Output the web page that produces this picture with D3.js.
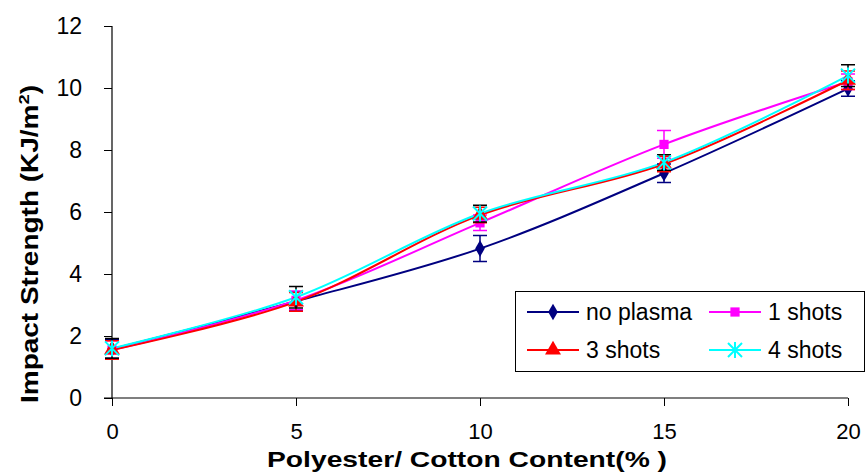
<!DOCTYPE html>
<html><head><meta charset="utf-8">
<script src="https://cdn.jsdelivr.net/npm/d3@7"></script>
<style>body{margin:0;background:#fff}svg{display:block}</style>
</head><body>
<svg id="c" width="867" height="474"></svg>
<script>
const content = [0, 5, 10, 15, 20];
const noPlasma = [1.58, 3.12, 4.82, 7.25, 9.98];
const noPlasmaErr = [0.3, 0.3, 0.42, 0.3, 0.25];
const shots1 = [1.55, 3.15, 5.65, 8.18, 10.2];
const shots1Err = [0.3, 0.3, 0.25, 0.45, 0.25];
const shots3 = [1.55, 3.1, 5.9, 7.55, 10.25];
const shots3Err = [0.3, 0.3, 0.25, 0.25, 0.3];
const shots4 = [1.6, 3.25, 5.95, 7.6, 10.4];
const shots4Err = [0.32, 0.35, 0.27, 0.25, 0.35];
const yTicks = [0, 2, 4, 6, 8, 10, 12];
const xTicks = [0, 5, 10, 15, 20];
const seriesNames = ["no plasma", "1 shots", "3 shots", "4 shots"];

const svg = d3.select("#c");
const x = d3.scaleLinear().domain([0, 20]).range([112, 848]);
const y = d3.scaleLinear().domain([0, 12]).range([398, 26]);
const FONT = "Liberation Sans, Arial, sans-serif";

const series = [
  {name: seriesNames[0], vals: noPlasma, err: noPlasmaErr, color: "#000080", errColor: "#000080", sym: d3.symbolDiamond, size: 80},
  {name: seriesNames[1], vals: shots1, err: shots1Err, color: "#FF00FF", errColor: "#FF00FF", sym: d3.symbolSquare, size: 85},
  {name: seriesNames[2], vals: shots3, err: shots3Err, color: "#FF0000", errColor: "#FF0000", sym: d3.symbolTriangle, size: 110},
  {name: seriesNames[3], vals: shots4, err: shots4Err, color: "#00FFFF", errColor: "#000000", sym: "star", size: 7}
];

// axes
const yAxis = d3.axisLeft(y).tickValues(yTicks).tickSize(8).tickPadding(22);
const gy = svg.append("g").attr("transform", "translate(112,0)").call(yAxis);
gy.select(".domain").attr("stroke", "#000").attr("stroke-width", 1.2).attr("d", "M0,26V398");
gy.selectAll(".tick line").attr("stroke", "#000");
gy.selectAll(".tick text").attr("font-family", FONT).attr("font-size", 23).attr("fill", "#000");

const xAxis = d3.axisBottom(x).tickValues(xTicks).tickSize(8).tickPadding(17);
const gx = svg.append("g").attr("transform", "translate(0,398)").call(xAxis);
gx.select(".domain").attr("stroke", "#000").attr("stroke-width", 1.2).attr("d", "M104,0H848");
gx.selectAll(".tick line").attr("stroke", "#000");
gx.selectAll(".tick text").attr("font-family", FONT).attr("font-size", 22).attr("fill", "#000");

// titles
svg.append("text").attr("x", 467).attr("y", 467).attr("text-anchor", "middle")
  .attr("font-family", FONT).attr("font-weight", "bold").attr("font-size", 22)
  .attr("textLength", 400).attr("lengthAdjust", "spacingAndGlyphs")
  .text("Polyester/ Cotton Content(% )");

const yt = svg.append("text").attr("transform", "translate(38,244) rotate(-90)").attr("text-anchor", "middle")
  .attr("font-family", FONT).attr("font-weight", "bold").attr("font-size", 23)
  .attr("textLength", 318).attr("lengthAdjust", "spacingAndGlyphs");
yt.append("tspan").text("Impact Strength (KJ/m");
yt.append("tspan").attr("font-size", 15).attr("dy", -9).text("2");
yt.append("tspan").attr("dy", 9).text(")");

const line = d3.line().x((d, i) => x(content[i])).y(d => y(d)).curve(d3.curveCatmullRom.alpha(0.5));

function drawMarker(g, s, cx, cy, scale) {
  if (s.sym === "star") {
    const r = s.size * scale;
    g.append("path").attr("d", `M${cx - r},${cy - r}L${cx + r},${cy + r}M${cx - r},${cy + r}L${cx + r},${cy - r}M${cx},${cy - r - 1}V${cy + r + 1}`)
      .attr("stroke", s.color).attr("stroke-width", 2).attr("fill", "none");
  } else {
    g.append("path").attr("d", d3.symbol().type(s.sym).size(s.size * scale * scale)())
      .attr("transform", `translate(${cx},${cy})`).attr("fill", s.color);
  }
}

// lines
series.forEach(s => {
  svg.append("path").attr("d", line(s.vals)).attr("fill", "none").attr("stroke", s.color).attr("stroke-width", 2);
});
// error bars + markers
series.forEach(s => {
  const g = svg.append("g");
  s.vals.forEach((v, i) => {
    const cx = x(content[i]);
    const y1 = y(v + s.err[i]), y2 = y(v - s.err[i]);
    g.append("path").attr("d", `M${cx},${y1}V${y2}M${cx - 7},${y1}H${cx + 7}M${cx - 7},${y2}H${cx + 7}`)
      .attr("stroke", s.errColor).attr("stroke-width", 1.5).attr("fill", "none");
    drawMarker(g, s, cx, y(v), 1);
  });
});

// legend
const lg = svg.append("g");
lg.append("rect").attr("x", 515.5).attr("y", 291.5).attr("width", 349).attr("height", 80)
  .attr("fill", "#fff").attr("stroke", "#000").attr("stroke-width", 1);
const pos = [[527, 312], [709, 312], [527, 350], [709, 350]];
series.forEach((s, i) => {
  const [lx, ly] = pos[i];
  lg.append("line").attr("x1", lx).attr("x2", lx + 52).attr("y1", ly).attr("y2", ly).attr("stroke", s.color).attr("stroke-width", 2);
  drawMarker(lg, s, lx + 26, ly, 1);
  lg.append("text").attr("x", lx + 59).attr("y", ly + 8).attr("font-family", FONT)
    .attr("font-size", 23).text(s.name);
});
</script>
</body></html>
